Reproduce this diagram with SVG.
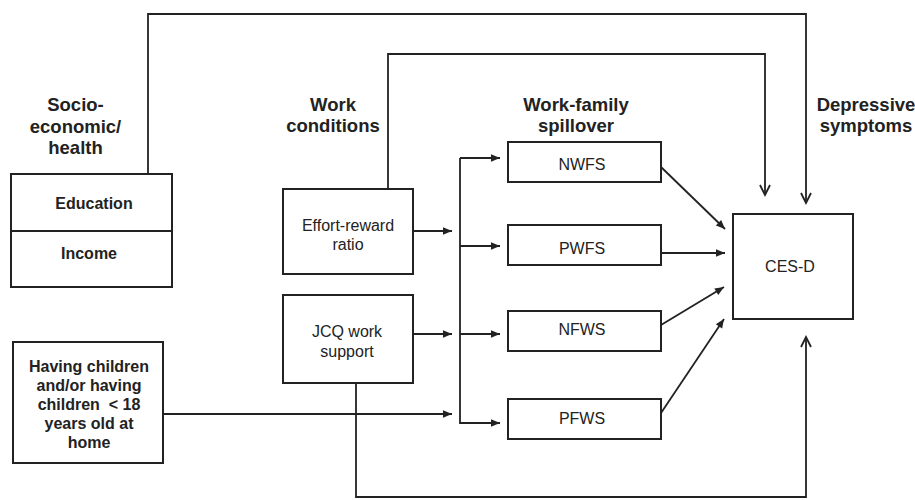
<svg xmlns="http://www.w3.org/2000/svg" width="915" height="500" viewBox="0 0 915 500">
<style>
  .box { fill: #fff; stroke: #222; stroke-width: 2; }
  .ln { fill: none; stroke: #222; stroke-width: 1.8; }
  .hdr { font-family: "Liberation Sans", Arial, sans-serif; font-weight: bold; font-size: 18.5px; fill: #222; text-anchor: middle; }
  .bl { font-family: "Liberation Sans", Arial, sans-serif; font-weight: bold; font-size: 16px; fill: #222; text-anchor: middle; }
  .nl { font-family: "Liberation Sans", Arial, sans-serif; font-size: 16px; fill: #222; text-anchor: middle; }
</style>
<defs>
  <marker id="tri" markerUnits="userSpaceOnUse" markerWidth="12" markerHeight="10" viewBox="0 0 12 10" refX="10" refY="5" orient="auto">
    <path d="M1,1.2 L10,5 L1,8.8 Z" fill="#222"/>
  </marker>
  <marker id="vee" markerUnits="userSpaceOnUse" markerWidth="14" markerHeight="14" viewBox="0 0 14 14" refX="11" refY="7" orient="auto">
    <path d="M1,2 L11,7 L1,12" fill="none" stroke="#222" stroke-width="1.8"/>
  </marker>
</defs>
<rect width="915" height="500" fill="#fff"/>

<g id="labels">
  <text class="hdr" x="75.5" y="111">Socio-</text>
  <text class="hdr" x="75.5" y="133">economic/</text>
  <text class="hdr" x="75.5" y="154">health</text>
  <text class="hdr" x="333" y="111">Work</text>
  <text class="hdr" x="333" y="132">conditions</text>
  <text class="hdr" x="576" y="111">Work-family</text>
  <text class="hdr" x="576" y="132">spillover</text>
  <text class="hdr" x="866" y="111">Depressive</text>
  <text class="hdr" x="866" y="132">symptoms</text>
</g>

<g id="connectors">
  <polyline class="ln" points="148,174 148,14 806,14 806,203" marker-end="url(#vee)"/>
  <polyline class="ln" points="388,189 388,54 765,54 765,195" marker-end="url(#vee)"/>
  <polyline class="ln" points="356,383 356,497 806,497 806,337" marker-end="url(#vee)"/>
  <line class="ln" x1="413" y1="231" x2="452" y2="231" marker-end="url(#tri)"/>
  <line class="ln" x1="413" y1="334" x2="452" y2="334" marker-end="url(#tri)"/>
  <line class="ln" x1="163" y1="414" x2="452" y2="414" marker-end="url(#tri)"/>
  <polyline class="ln" points="460,158 500,158" marker-end="url(#tri)"/>
  <polyline class="ln" points="460,158 460,423 500,423" marker-end="url(#tri)"/>
  <line class="ln" x1="460" y1="246" x2="500" y2="246" marker-end="url(#tri)"/>
  <line class="ln" x1="460" y1="334" x2="500" y2="334" marker-end="url(#tri)"/>
  <line class="ln" x1="661" y1="167" x2="725" y2="229" marker-end="url(#tri)"/>
  <line class="ln" x1="661" y1="253" x2="725" y2="253" marker-end="url(#tri)"/>
  <line class="ln" x1="661" y1="325" x2="724" y2="287" marker-end="url(#tri)"/>
  <line class="ln" x1="661" y1="413" x2="724" y2="319" marker-end="url(#tri)"/>
</g>

<g id="socio">
  <rect class="box" x="11" y="174" width="161" height="113"/>
  <line class="ln" x1="11" y1="231" x2="172" y2="231" style="stroke-width:2"/>
  <text class="bl" x="94" y="209">Education</text>
  <text class="bl" x="89" y="259">Income</text>
</g>

<g id="children">
  <rect class="box" x="13" y="342" width="150" height="121"/>
  <text class="bl" x="89" y="372">Having children</text>
  <text class="bl" x="89" y="391">and/or having</text>
  <text class="bl" x="89" y="410" xml:space="preserve">children  &lt; 18</text>
  <text class="bl" x="89" y="429">years old at</text>
  <text class="bl" x="89" y="448">home</text>
</g>

<g id="effort">
  <rect class="box" x="283" y="189" width="130" height="85"/>
  <text class="nl" x="348" y="231">Effort-reward</text>
  <text class="nl" x="348" y="250">ratio</text>
</g>

<g id="jcq">
  <rect class="box" x="283" y="295" width="130" height="88"/>
  <text class="nl" x="347" y="337">JCQ work</text>
  <text class="nl" x="347" y="357">support</text>
</g>

<g id="nwfs">
  <rect class="box" x="508" y="142" width="153" height="40"/>
  <text class="nl" x="582" y="170">NWFS</text>
</g>

<g id="pwfs">
  <rect class="box" x="508" y="225" width="153" height="40"/>
  <text class="nl" x="582" y="254">PWFS</text>
</g>

<g id="nfws">
  <rect class="box" x="508" y="311" width="153" height="40"/>
  <text class="nl" x="582" y="335">NFWS</text>
</g>

<g id="pfws">
  <rect class="box" x="508" y="399" width="153" height="40"/>
  <text class="nl" x="582" y="424">PFWS</text>
</g>

<g id="cesd">
  <rect class="box" x="733" y="214" width="120" height="105"/>
  <text class="nl" x="790" y="272">CES-D</text>
</g>
</svg>
